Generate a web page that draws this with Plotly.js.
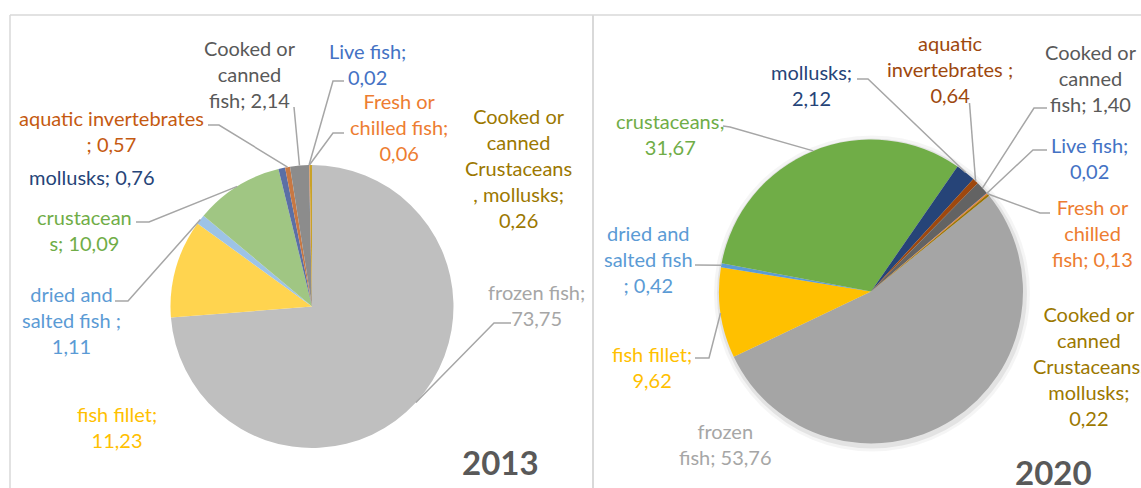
<!DOCTYPE html>
<html>
<head>
<meta charset="utf-8">
<script src="https://cdn.plot.ly/plotly-3.0.1.min.js"></script>
<style>html,body{margin:0;padding:0;background:#fff;}#chart{width:1141px;height:488px;}</style>
</head>
<body>
<div id="chart"></div>
<script>
// ---------------- DATA ----------------
const categories = ["frozen fish", "fish fillet", "dried and salted fish", "crustaceans", "mollusks",
  "aquatic invertebrates", "Cooked or canned fish", "Live fish", "Fresh or chilled fish",
  "Cooked or canned Crustaceans, mollusks"];
const values2013 = [73.75, 11.23, 1.11, 10.09, 0.76, 0.57, 2.14, 0.02, 0.06, 0.26];
const values2020 = [53.76, 9.62, 0.42, 31.67, 2.12, 0.64, 1.40, 0.02, 0.13, 0.22];
const labelText2013 = ["frozen fish;<br>{v}", "fish fillet;<br>{v}", "dried and<br>salted fish ;<br>{v}",
  "crustacean<br>s; {v}", "mollusks; {v}", "aquatic invertebrates<br>; {v}", "Cooked or<br>canned<br>fish; {v}",
  "Live fish;<br>{v}", "Fresh or<br>chilled fish;<br>{v}", "Cooked or<br>canned<br>Crustaceans<br>, mollusks;<br>{v}"];
const labelText2020 = ["frozen<br>fish; {v}", "fish fillet;<br>{v}", "dried and<br>salted fish<br>; {v}",
  "crustaceans;<br>{v}", "mollusks;<br>{v}", "aquatic<br>invertebrates ;<br>{v}", "Cooked or<br>canned<br>fish; {v}",
  "Live fish;<br>{v}", "Fresh or<br>chilled<br>fish; {v}", "Cooked or<br>canned<br>Crustaceans,<br>mollusks;<br>{v}"];
const years = ["2013", "2020"];

// ---------------- STYLE / LAYOUT ----------------
const W = 1141, H = 488;
const FONT = "Lato, 'Open Sans', sans-serif";
const sliceColors2013 = ["#BFBFBF", "#FFD44F", "#9DC3E6", "#A0C683", "#5B6FA5", "#C87843", "#8C8C8C", "#4472C4", "#ED7D31", "#C9A227"];
const sliceColors2020 = ["#A5A5A5", "#FFC000", "#5B9BD5", "#70AD47", "#264478", "#9E480E", "#636363", "#4472C4", "#ED7D31", "#997300"];
const textColors2013 = ["#A6A6A6", "#FFC000", "#5B9BD5", "#70AD47", "#264478", "#C55A11", "#595959", "#4472C4", "#ED7D31", "#9C7800"];
const textColors2020 = ["#A6A6A6", "#FFC000", "#5B9BD5", "#70AD47", "#264478", "#9E480E", "#595959", "#4472C4", "#ED7D31", "#9C7800"];
const pie1 = {cx: 312, cy: 306.5, r: 141.5, rot: 0};
const pie2 = {cx: 871, cy: 291.5, r: 152, rot: 51};
// label block centers (pixels)
const labelPos2013 = [[536, 304.5], [117, 426.5], [71, 320], [84, 229.5], [91.5, 177], [111, 130.5], [250, 73.5], [367, 64], [398.5, 126.5], [518, 167.5]];
const labelPos2020 = [[725.5, 443.5], [651.5, 366.5], [648, 259], [670, 134], [811, 85.5], [950, 69], [1091, 77.5], [1089, 157.5], [1092.5, 233.5], [1089, 365.5]];
// leader lines: label-side points (pixels), ending at the slice edge; null = no leader
const leader2013 = [[[511, 323], [494, 323]], null, [[115, 301], [128, 301]], [[136, 222], [149, 222]], null,
  [[208, 125], [219, 125]], [[294, 107]], [[344, 81], [333, 81]], [[344, 133], [333, 133]], null];
const leader2020 = [null, [[695, 358], [709, 358]], [[695, 265]], [[723, 126], [730, 127]], [[857, 79], [868, 79]],
  [[969.5, 103]], [[1047, 108], [1034, 108]], [[1047, 150], [1033, 150]], [[1050, 213], [1040, 213]], null];
const yearPos = [[500, 462], [1053, 472]];

const px = x => x / W;
const py = y => 1 - y / H;
const fmt = v => v.toFixed(2).replace('.', ',');

function pieTrace(vals, colors, p) {
  return {
    type: 'pie', values: vals, labels: categories, sort: false, direction: 'clockwise',
    rotation: p.rot, textinfo: 'none', hoverinfo: 'none', showlegend: false,
    marker: {colors: colors, line: {width: 0}},
    domain: {x: [px(p.cx - p.r), px(p.cx + p.r)], y: [py(p.cy + p.r), py(p.cy - p.r)]}
  };
}

function edgePoints(vals, p) {
  const total = vals.reduce((a, b) => a + b, 0);
  let cum = 0;
  return vals.map(v => {
    const mid = (p.rot + 360 * (cum + v / 2) / total) * Math.PI / 180;
    cum += v;
    return [p.cx + p.r * Math.sin(mid), p.cy - p.r * Math.cos(mid)];
  });
}

const annotations = [];
const shapes = [];

// frame lines
const frameCol = '#D9D9D9';
shapes.push({type: 'line', xref: 'paper', yref: 'paper', x0: px(10), x1: px(1141), y0: py(15), y1: py(15), line: {color: frameCol, width: 1.5}});
shapes.push({type: 'line', xref: 'paper', yref: 'paper', x0: px(10), x1: px(10), y0: py(15), y1: py(488), line: {color: frameCol, width: 1.5}});
shapes.push({type: 'line', xref: 'paper', yref: 'paper', x0: px(593), x1: px(593), y0: py(15), y1: py(488), line: {color: frameCol, width: 2}});

// soft shadow behind 2020 pie
[[6, 0.04], [3, 0.07]].forEach(([d, a]) => {
  shapes.push({type: 'circle', xref: 'paper', yref: 'paper', layer: 'below',
    x0: px(pie2.cx - pie2.r - d + 1), x1: px(pie2.cx + pie2.r + d + 1),
    y0: py(pie2.cy + pie2.r + d + 2), y1: py(pie2.cy - pie2.r - d + 2),
    fillcolor: 'rgba(0,0,0,' + a + ')', line: {width: 0}});
});

function addLabels(vals, texts, colors, pos, leaders, p) {
  const edges = edgePoints(vals, p);
  vals.forEach((v, i) => {
    annotations.push({
      xref: 'paper', yref: 'paper', x: px(pos[i][0]), y: py(pos[i][1]),
      xanchor: 'center', yanchor: 'middle', align: 'center', showarrow: false,
      text: texts[i].replace('{v}', fmt(v)),
      font: {family: FONT, size: 20, color: colors[i]}
    });
    if (leaders[i]) {
      const pts = leaders[i].concat([edges[i]]);
      const path = pts.map((q, k) => (k ? 'L' : 'M') + px(q[0]) + ',' + py(q[1])).join(' ');
      shapes.push({type: 'path', xref: 'paper', yref: 'paper', path: path, line: {color: '#A6A6A6', width: 1.5}});
    }
  });
}
addLabels(values2013, labelText2013, textColors2013, labelPos2013, leader2013, pie1);
addLabels(values2020, labelText2020, textColors2020, labelPos2020, leader2020, pie2);

years.forEach((y, i) => {
  annotations.push({xref: 'paper', yref: 'paper', x: px(yearPos[i][0]), y: py(yearPos[i][1]),
    xanchor: 'center', yanchor: 'middle', showarrow: false, text: '<b>' + y + '</b>',
    font: {family: FONT, size: 33, color: '#595959'}});
});

const layout = {
  width: W, height: H, margin: {l: 0, r: 0, t: 0, b: 0},
  paper_bgcolor: '#FFFFFF', plot_bgcolor: '#FFFFFF',
  annotations: annotations, shapes: shapes
};

Plotly.newPlot('chart', [pieTrace(values2013, sliceColors2013, pie1), pieTrace(values2020, sliceColors2020, pie2)],
  layout, {displayModeBar: false, staticPlot: true});
</script>
</body>
</html>
